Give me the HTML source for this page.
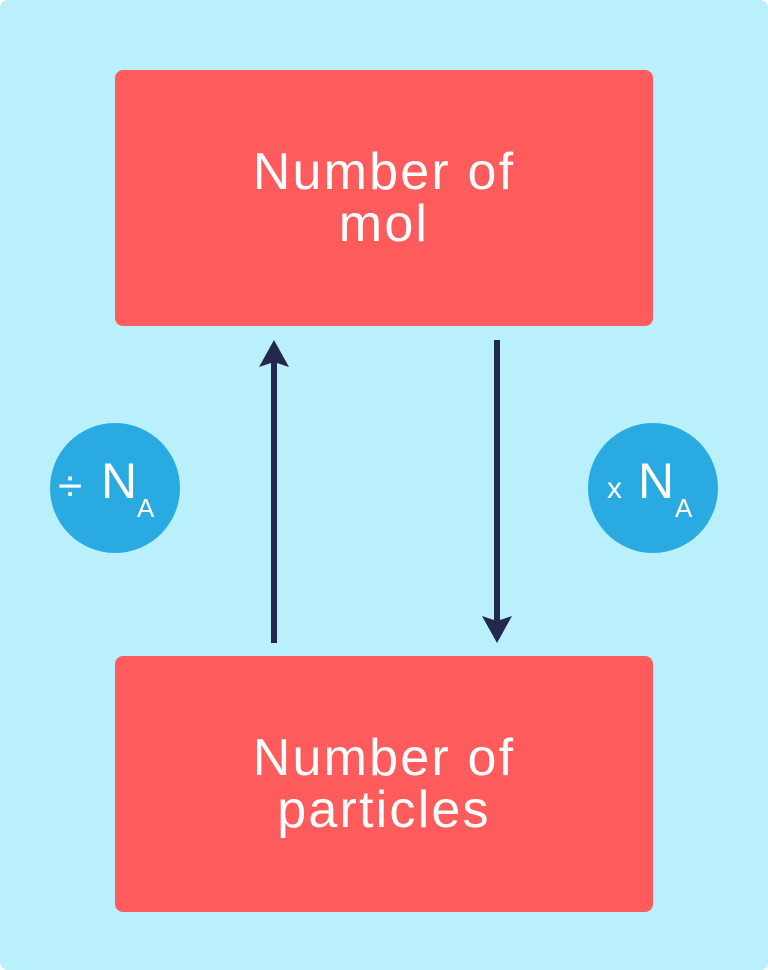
<!DOCTYPE html>
<html><head><style>
html,body{margin:0;padding:0;background:#fff;}
body{width:768px;height:970px;position:relative;overflow:hidden;}
.bg{position:absolute;left:0;top:0;width:768px;height:970px;background:#b9f0fc;border-radius:8px;}
.box{position:absolute;left:115px;width:538px;height:256px;background:#fe5c5c;border-radius:8px;color:#fff;font-family:"Liberation Sans",sans-serif;font-size:52px;letter-spacing:2.2px;line-height:52px;text-align:center;display:flex;align-items:center;justify-content:center;}
</style></head><body>
<div class="bg"></div>
<div class="box" style="top:70px;">Number of<br>mol</div>
<div class="box" style="top:656px;">Number of<br>particles</div>
<svg width="768" height="970" style="position:absolute;left:0;top:0">
<line x1="274" y1="643" x2="274" y2="360" stroke="#22284e" stroke-width="6"/>
<polygon points="274,340 259,367 274,362 289,367" fill="#22284e"/>
<line x1="497" y1="340" x2="497" y2="622" stroke="#22284e" stroke-width="6"/>
<polygon points="497,643 482,616 497,621 512,616" fill="#22284e"/>
<circle cx="115" cy="488" r="65" fill="#29abe2"/>
<circle cx="653" cy="488" r="65" fill="#29abe2"/>
<g font-family="Liberation Sans,sans-serif" fill="#fff">
<text x="58" y="501" font-size="44">÷</text>
<text x="101" y="498" font-size="50">N</text>
<text x="137" y="517" font-size="26">A</text>
<text x="607" y="498" font-size="30">x</text>
<text x="638" y="498" font-size="50">N</text>
<text x="675" y="517" font-size="26">A</text>
</g>
</svg>
</body></html>
